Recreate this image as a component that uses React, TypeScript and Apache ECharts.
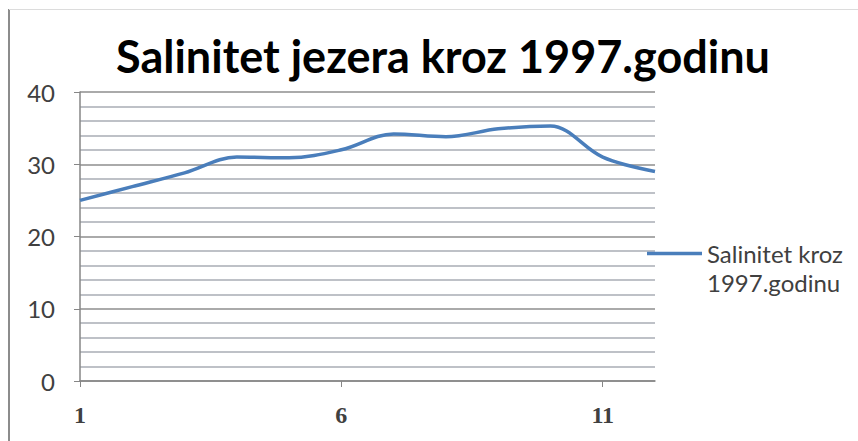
import React, { useEffect, useRef } from "react";
import * as echarts from "echarts";

const categories = ["1", "2", "3", "4", "5", "6", "7", "8", "9", "10", "11", "12"];
const salinity = [25, 26.9, 28.8, 31, 30.9, 32, 34.2, 33.8, 34.9, 35.3, 31, 29];
const seriesName = "Salinitet kroz 1997.godinu";
const titleText = "Salinitet jezera kroz 1997.godinu";

export default function App() {
  const ref = useRef<HTMLDivElement>(null);
  useEffect(() => {
    if (!ref.current) return;
    const chart = echarts.init(ref.current, null, { renderer: "svg" });
    chart.setOption({
      animation: false,
      backgroundColor: "#ffffff",
      title: {
        text: titleText,
        left: 116,
        top: 33,
        padding: 0,
        textStyle: { fontFamily: "Lato", fontWeight: "bold", fontSize: 45, color: "#000000" },
      },
      graphic: [
        { type: "line", shape: { x1: 9, y1: 9, x2: 9, y2: 441 }, style: { stroke: "#8c8c8c", lineWidth: 2 } },
        { type: "line", shape: { x1: 9, y1: 9.5, x2: 858, y2: 9.5 }, style: { stroke: "#dcdcdc", lineWidth: 1 } },
      ],
      legend: {
        show: true,
        left: 642,
        top: 205,
        orient: "vertical",
        icon: "rect",
        itemWidth: 55,
        itemHeight: 3.5,
        formatter: () => " \nSalinitet kroz\n1997.godinu",
        textStyle: {
          fontFamily: "Lato",
          fontSize: 24,
          color: "#404040",
          lineHeight: 29,
        },
        itemGap: 4,
        data: [seriesName],
      },
      grid: { left: 80, right: 203, top: 92, bottom: 60, containLabel: false },
      xAxis: {
        type: "category",
        data: categories,
        boundaryGap: false,
        axisLine: { lineStyle: { color: "#868686", width: 1.5 } },
        axisTick: { show: true, length: 6, interval: 4, lineStyle: { color: "#868686" } },
        axisLabel: {
          interval: 4,
          margin: 22,
          fontFamily: "Liberation Serif",
          fontWeight: "bold",
          fontSize: 24,
          color: "#404040",
        },
        splitLine: { show: false },
      },
      yAxis: {
        type: "value",
        min: 0,
        max: 40,
        interval: 10,
        axisLine: { show: true, lineStyle: { color: "#868686", width: 1.5 } },
        axisTick: { show: true, length: 6, lineStyle: { color: "#868686" } },
        axisLabel: { margin: 25, fontFamily: "Lato", fontSize: 24, color: "#404040" },
        splitLine: { show: true, lineStyle: { color: "#8e8e8e", width: 1.5 } },
        minorTick: { show: false, splitNumber: 5 },
        minorSplitLine: { show: true, lineStyle: { color: "#a9adb5", width: 1.5 } },
      },
      series: [
        {
          name: seriesName,
          type: "line",
          data: salinity,
          smooth: 0.35,
          symbol: "none",
          lineStyle: { color: "#4a7ebb", width: 3.5 },
          itemStyle: { color: "#4a7ebb" },
        },
      ],
    });
    return () => chart.dispose();
  }, []);
  return (
    <div style={{ position: "fixed", left: 0, top: 0, width: 858, height: 441 }}>
      <div ref={ref} style={{ width: 858, height: 441 }} />
    </div>
  );
}
